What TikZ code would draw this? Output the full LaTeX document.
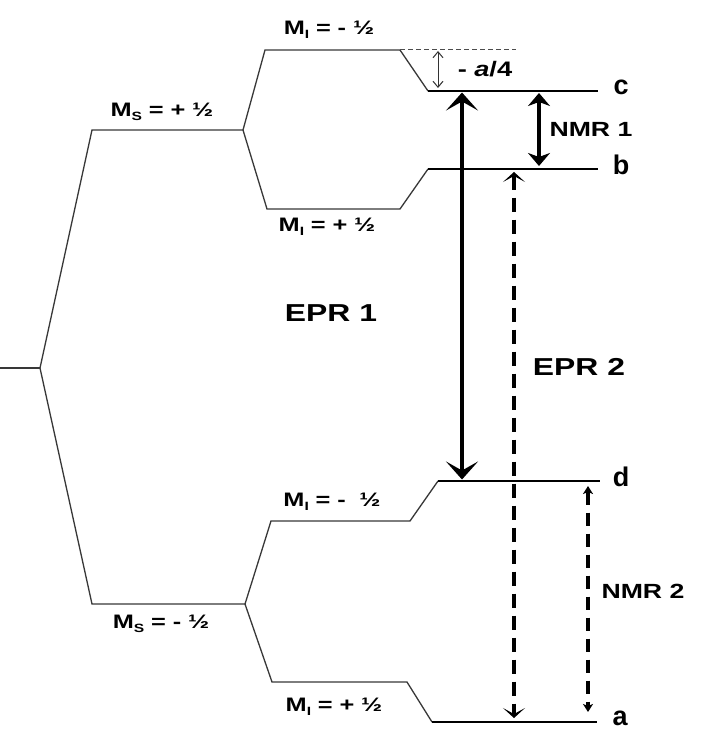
\documentclass[tikz,border=0pt]{standalone}
\usepackage{fontspec}
\setmainfont{Liberation Sans}
\newfontfamily\labfont[FakeStretch=1.3]{Liberation Sans}
\usetikzlibrary{arrows.meta}
\newcommand{\lowsub}[1]{\raisebox{-0.4ex}{\fontsize{12}{12}\selectfont #1}}
\newcommand{\gp}{\hspace{0.35em}}
\begin{document}
\begin{tikzpicture}[x=1pt,y=-1pt,
  split/.style={draw=black!78, line width=1.3pt, line join=miter},
  level/.style={draw=black, line width=2.8pt},
  mlab/.style={font=\labfont\bfseries\fontsize{19.5}{19.5}\selectfont, inner sep=0pt},
  biglab/.style={font=\labfont\bfseries\fontsize{24.5}{24.5}\selectfont, inner sep=0pt},
  nmrlab/.style={font=\labfont\bfseries\fontsize{20.5}{20.5}\selectfont, inner sep=0pt},
  lvlab/.style={font=\bfseries\fontsize{27}{27}\selectfont, inner sep=0pt},
  epra/.style={line width=4.8pt, {Stealth[length=18pt,width=32pt,inset=9pt]}-{Stealth[length=18pt,width=32pt,inset=9pt]}},
  eprb/.style={line width=4pt, dash pattern=on 14pt off 8pt, {Stealth[length=10pt,width=22pt,inset=6pt]}-{Stealth[length=10pt,width=22pt,inset=6pt]}},
  nmra/.style={line width=3.6pt, {Stealth[length=13pt,width=22pt,inset=4pt]}-{Stealth[length=13pt,width=22pt,inset=4pt]}},
  nmrb/.style={line width=3.2pt, dash pattern=on 13pt off 8pt, {Stealth[length=8pt,width=10pt,inset=2pt]}-{Stealth[length=8pt,width=10pt,inset=2pt]}},
  hfa/.style={line width=1pt, draw=black!80, {Straight Barb[length=6pt,width=10pt]}-{Straight Barb[length=6pt,width=10pt]}}
]
\useasboundingbox[fill=white] (0,0) rectangle (712,743);

% coordinates
\coordinate (s0) at (0,368);
\coordinate (o) at (40,368);
\coordinate (up1) at (92,130);
\coordinate (up2) at (243,130);
\coordinate (uu1) at (265,50);
\coordinate (uu2) at (400,50);
\coordinate (c1) at (428,91);
\coordinate (c2) at (598,91);
\coordinate (dsh) at (516,50);
\coordinate (ud1) at (267,209);
\coordinate (ud2) at (400,209);
\coordinate (b1) at (428,169);
\coordinate (b2) at (598,169);
\coordinate (lo1) at (92,604);
\coordinate (lo2) at (245,604);
\coordinate (lu1) at (271,521);
\coordinate (lu2) at (410,521);
\coordinate (d1) at (438,481);
\coordinate (d2) at (600,481);
\coordinate (ld1) at (272,682);
\coordinate (ld2) at (407,682);
\coordinate (a1) at (432,722);
\coordinate (a2) at (597,722);

% splitting lines
\draw[split] (s0) -- (o);
\draw[split] (o) -- (up1) -- (up2);
\draw[split] (up2) -- (uu1) -- (uu2) -- (c1);
\draw[split] (up2) -- (ud1) -- (ud2) -- (b1);
\draw[split] (o) -- (lo1) -- (lo2);
\draw[split] (lo2) -- (lu1) -- (lu2) -- (d1);
\draw[split] (lo2) -- (ld1) -- (ld2) -- (a1);
\draw[draw=black!70, line width=1pt, dash pattern=on 5pt off 3pt] (uu2) -- (dsh);

% levels
\draw[level] (c1) -- (c2);
\draw[level] (b1) -- (b2);
\draw[level] (d1) -- (d2);
\draw[level] (a1) -- (a2);

% level letters
\node[lvlab] (lc) at (621,87) {c};
\node[lvlab] (lb) at (621,165) {b};
\node[lvlab] (ld) at (621,477) {d};
\node[lvlab] (la) at (620,718) {a};

% transition arrows
\coordinate (e1t) at (462,92.5);
\coordinate (e1b) at (462,479.5);
\draw[epra] (e1t) -- (e1b);
\coordinate (e2t) at (514,172);
\coordinate (e2b) at (514,718);
\draw[eprb] (e2t) -- (e2b);
\coordinate (n1t) at (539,93);
\coordinate (n1b) at (539,166);
\draw[nmra] (n1t) -- (n1b);
\coordinate (n2t) at (588,486);
\coordinate (n2b) at (588,712);
\draw[nmrb] (n2t) -- (n2b);
\coordinate (h1) at (438,51);
\coordinate (h2) at (438,88);
\draw[hfa] (h1) -- (h2);

% labels
\node[mlab] (mi1) at (329,30) {M\lowsub{I}\gp=\gp-\gp½};
\node[mlab] (ms1) at (162,112) {M\lowsub{S}\gp=\gp+\gp½};
\node[mlab] (mi2) at (327,227) {M\lowsub{I}\gp=\gp+\gp½};
\node[mlab] (mi3) at (332,502) {M\lowsub{I}\gp=\gp-\gp\gp½};
\node[mlab] (ms2) at (161,624) {M\lowsub{S}\gp=\gp-\gp½};
\node[mlab] (mi4) at (334,707) {M\lowsub{I}\gp=\gp+\gp½};
\node[mlab, font=\labfont\bfseries\fontsize{21}{21}\selectfont] (ha) at (485,69) {-\gp\textit{a}/4};
\node[biglab] (epr1) at (331,313) {EPR 1};
\node[biglab] (epr2) at (579,367) {EPR 2};
\node[nmrlab] (nmr1) at (591,129) {NMR 1};
\node[nmrlab] (nmr2) at (643,591) {NMR 2};
\end{tikzpicture}
\end{document}
